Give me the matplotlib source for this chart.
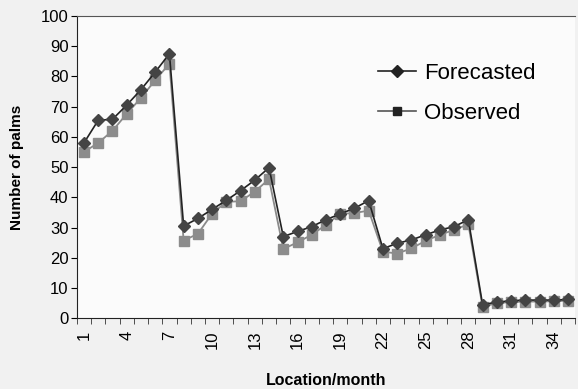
import matplotlib
matplotlib.use("Agg")
import matplotlib.pyplot as plt
from matplotlib.lines import Line2D
import numpy as np

plt.rcParams['font.family'] = ['Liberation Sans', 'DejaVu Sans']

months = list(range(1, 36))
forecasted = [58, 65.5, 65.8, 70.5, 75.6, 81.4, 87.5,
              30.5, 33.0, 36.0, 39.0, 42.2, 45.7, 49.8,
              27.0, 28.7, 30.3, 32.6, 34.5, 36.4, 38.9,
              23.0, 24.8, 25.9, 27.6, 29.2, 30.3, 32.6,
              4.5, 5.3, 5.8, 6.0, 6.0, 6.0, 6.2]
observed = [55, 58, 62, 67.6, 72.9, 78.7, 84.2,
            25.7, 27.9, 34.6, 38.5, 38.7, 41.9, 46.0,
            22.9, 25.1, 27.6, 30.9, 34.5, 34.8, 35.6,
            22.0, 21.4, 23.1, 25.6, 27.6, 29.2, 31.1,
            3.7, 5.0, 5.3, 5.5, 5.5, 5.6, 5.8]
xtick_labels = [1, 4, 7, 10, 13, 16, 19, 22, 25, 28, 31, 34]

fig = plt.figure(figsize=(5.78, 3.89), dpi=100, facecolor='#f1f1f1')
ax = fig.add_axes([0.133, 0.182, 0.862, 0.777])
ax.set_facecolor('#fbfbfb')

ax.plot(months, observed, color='#8a8a8a', marker='s', markersize=7,
        markerfacecolor='#8c8c8c', markeredgecolor='#8c8c8c', lw=1.3,
        label='Observed', zorder=2)
ax.plot(months, forecasted, color='#222222', marker='D', markersize=6,
        markerfacecolor='#444444', markeredgecolor='#444444', lw=1.2,
        label='Forecasted', zorder=3)

ax.set_xlim(0.5, 35.5)
ax.set_ylim(0, 100)
ax.set_yticks(np.arange(0, 101, 10))
ax.set_xticks(xtick_labels)
ax.set_xticklabels([str(v) for v in xtick_labels], rotation=90, fontsize=12)
ax.set_xticks(np.arange(0.5, 36, 1), minor=True)
ax.tick_params(axis='x', which='major', length=0, pad=9)
ax.tick_params(axis='x', which='minor', length=4, direction='out', color='#333333')
ax.tick_params(axis='y', which='major', length=4, direction='out', labelsize=12, pad=2)

ax.spines['right'].set_visible(False)
ax.spines['top'].set_color('#555555')
ax.spines['left'].set_color('#222222')
ax.spines['bottom'].set_color('#222222')

ax.set_xlabel('Location/month', fontsize=11.5, fontweight='bold', labelpad=17)
ax.set_ylabel('Number of palms', fontsize=11, fontweight='bold', labelpad=12)

h_f = Line2D([], [], color='#222222', marker='D', markersize=6,
             markerfacecolor='#222222', markeredgecolor='#222222', lw=1.2)
h_o = Line2D([], [], color='#555555', marker='s', markersize=6,
             markerfacecolor='#222222', markeredgecolor='#222222', lw=1.2)
ax.legend([h_f, h_o], ['Forecasted', 'Observed'], loc='upper left',
          bbox_to_anchor=(0.565, 0.91), frameon=False, fontsize=16,
          handlelength=1.7, handletextpad=0.35, labelspacing=0.85)

fig.savefig('out.png', dpi=100, facecolor=fig.get_facecolor())
